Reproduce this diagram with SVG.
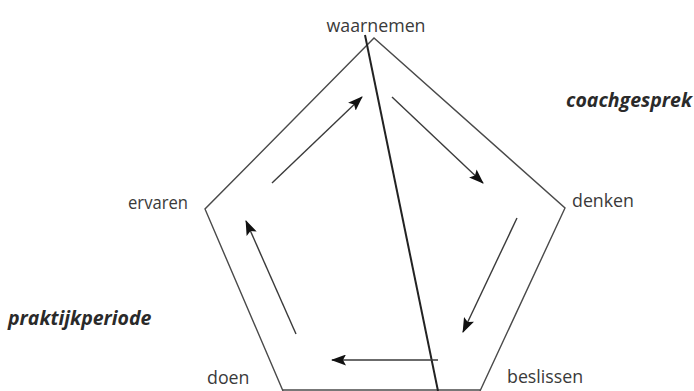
<svg xmlns="http://www.w3.org/2000/svg" width="694" height="391" viewBox="0 0 694 391">
<style>
.lbl{font-family:"Open Sans","Noto Sans",sans-serif;font-size:17.8px;fill:#3a3a3a}
.it{font-family:"Open Sans","Noto Sans",sans-serif;font-size:19.5px;font-weight:bold;font-style:italic;fill:#2a2a2a}
.edge{fill:none;stroke:#4a4a4a;stroke-width:1.4}
.arr{fill:none;stroke:#3a3a3a;stroke-width:1.4;marker-end:url(#ah)}
</style>
<defs>
<marker id="ah" viewBox="0 0 15 11" refX="14" refY="5.5" markerWidth="15" markerHeight="11" markerUnits="userSpaceOnUse" orient="auto">
<path d="M0,0 L15,5.5 L0,11 L3,5.5 Z" fill="#111"/>
</marker>
</defs>
<rect width="694" height="391" fill="#fff"/>
<g id="pentagon">
<polyline class="edge" points="283,391 205,209 374,38 565,208 480,391"/>
<line class="edge" x1="283" y1="390" x2="480" y2="390"/>
</g>
<g id="divider">
<line x1="365" y1="35" x2="438" y2="391" stroke="#222" stroke-width="2"/>
</g>
<g id="connectors">
<line class="arr" x1="272" y1="183" x2="362" y2="97"/>
<line class="arr" x1="392" y1="97" x2="483" y2="183"/>
<line class="arr" x1="517" y1="218" x2="463" y2="332"/>
<line class="arr" x1="438" y1="360" x2="332" y2="360"/>
<line class="arr" x1="296" y1="334" x2="246" y2="221"/>
</g>
<g id="waarnemen"><text class="lbl" x="376" y="32" text-anchor="middle">waarnemen</text></g>
<g id="denken"><text class="lbl" x="572" y="207">denken</text></g>
<g id="ervaren"><text class="lbl" x="188" y="209" text-anchor="end" textLength="60" lengthAdjust="spacingAndGlyphs">ervaren</text></g>
<g id="doen"><text class="lbl" x="207" y="384">doen</text></g>
<g id="beslissen"><text class="lbl" x="507" y="383">beslissen</text></g>
<g id="praktijkperiode"><text class="it" x="8" y="325">praktijkperiode</text></g>
<g id="coachgesprek"><text class="it" x="692" y="107" text-anchor="end">coachgesprek</text></g>
</svg>
